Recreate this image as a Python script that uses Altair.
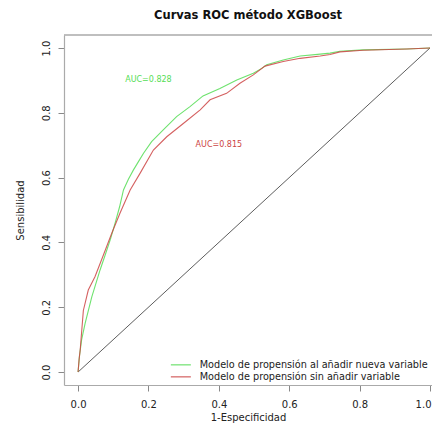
import altair as alt
import pandas as pd

# Series labels
lab_nueva = "Modelo de propensión al añadir nueva variable"
lab_sin = "Modelo de propensión sin añadir variable"

# ROC curve: model with new variable (green)
fpr_nueva = [0, 0.004, 0.010, 0.020, 0.039, 0.0625, 0.077, 0.092, 0.105, 0.118, 0.129, 0.143,
             0.157, 0.172, 0.186, 0.209, 0.242, 0.280, 0.318, 0.355, 0.403, 0.451, 0.498,
             0.522, 0.536, 0.583, 0.631, 0.688, 0.716, 0.744, 0.81, 0.934, 1.0]
tpr_nueva = [0, 0.05, 0.099, 0.15, 0.232, 0.315, 0.361, 0.41, 0.459, 0.51, 0.562, 0.595,
             0.623, 0.65, 0.675, 0.711, 0.747, 0.788, 0.819, 0.852, 0.875, 0.901, 0.922,
             0.937, 0.948, 0.963, 0.975, 0.981, 0.984, 0.99, 0.994, 0.997, 1.0]

# ROC curve: model without new variable (red)
fpr_sin = [0, 0.003, 0.006, 0.015, 0.029, 0.048, 0.072, 0.096, 0.119, 0.148, 0.176, 0.214,
           0.252, 0.299, 0.347, 0.375, 0.422, 0.46, 0.498, 0.531, 0.583, 0.631, 0.688,
           0.716, 0.744, 0.81, 0.934, 1.0]
tpr_sin = [0, 0.04, 0.068, 0.19, 0.253, 0.294, 0.361, 0.429, 0.49, 0.562, 0.613, 0.685,
           0.726, 0.767, 0.809, 0.84, 0.86, 0.891, 0.917, 0.944, 0.958, 0.968, 0.975,
           0.98, 0.988, 0.993, 0.997, 1.0]

# AUC annotations
auc_text = ["AUC=0.828", "AUC=0.815"]
auc_x = [0.2, 0.4]
auc_y = [0.9, 0.7]
auc_series = [lab_nueva, lab_sin]

# Diagonal reference
diag_x = [0, 1]
diag_y = [0, 1]

tick_vals = [0, 0.2, 0.4, 0.6, 0.8, 1.0]

col_green = "#55dd55"
col_red = "#cc4444"
frame_col = "#aaaaaa"

df = pd.concat([
    pd.DataFrame({"fpr": fpr_nueva, "tpr": tpr_nueva, "serie": lab_nueva, "ord": range(len(fpr_nueva))}),
    pd.DataFrame({"fpr": fpr_sin, "tpr": tpr_sin, "serie": lab_sin, "ord": range(len(fpr_sin))}),
])
df_auc = pd.DataFrame({"x": auc_x, "y": auc_y, "t": auc_text, "serie": auc_series})
df_diag = pd.DataFrame({"x": diag_x, "y": diag_y})

xscale = alt.Scale(domain=[-0.04, 1.0057], nice=False, zero=False)
yscale = alt.Scale(domain=[-0.04, 1.04], nice=False, zero=False)
cscale = alt.Scale(domain=[lab_nueva, lab_sin], range=[col_green, col_red])

xaxis = alt.Axis(title="1-Especificidad", values=tick_vals, format=".1f",
                 grid=False, domain=True, domainColor=frame_col, domainWidth=1.2,
                 tickSize=6, tickColor="#888888", labelPadding=8,
                 labelFlush=3, labelFlushOffset=1,
                 labelFontSize=10, labelColor="#222222", titleFontSize=10, titleFontWeight="normal",
                 titleColor="#222222", titlePadding=3)
yaxis = alt.Axis(title="Sensibilidad", values=tick_vals, format=".1f",
                 grid=False, domain=True, domainColor=frame_col, domainWidth=1.2,
                 tickSize=6, tickColor="#888888", labelPadding=7,
                 labelAngle=270, labelAlign="center", labelBaseline="bottom",
                 labelFontSize=10, labelColor="#222222", titleFontSize=10, titleFontWeight="normal",
                 titleColor="#222222", titleX=-44, titleBaseline="middle")

diag = alt.Chart(df_diag).mark_line(color="#333333", strokeWidth=0.8).encode(
    x=alt.X("x:Q", scale=xscale, axis=xaxis),
    y=alt.Y("y:Q", scale=yscale, axis=yaxis),
)

# top edge of the plot frame (the right edge falls outside the picture, as in the reference)
topframe = alt.Chart(df_diag).mark_rule(color=frame_col, strokeWidth=1.2).encode(
    x=alt.value(0), x2=alt.value("width"), y=alt.value(0),
)

lines = alt.Chart(df).mark_line(strokeWidth=1.1, opacity=0.85).encode(
    x=alt.X("fpr:Q", scale=xscale),
    y=alt.Y("tpr:Q", scale=yscale),
    color=alt.Color("serie:N", scale=cscale, sort=[lab_nueva, lab_sin],
                    legend=alt.Legend(title=None, orient="none", legendX=112, legendY=325,
                                      symbolType="M-5,0H5", symbolSize=16, symbolStrokeWidth=1.2,
                                      labelFontSize=9.7, labelColor="#222222", labelOffset=14,
                                      labelLimit=400, rowPadding=1, padding=0)),
    order="ord:Q",
)

texts = alt.Chart(df_auc).mark_text(fontSize=8).encode(
    x=alt.X("x:Q", scale=xscale),
    y=alt.Y("y:Q", scale=yscale),
    text="t:N",
    color=alt.Color("serie:N", scale=cscale, legend=None),
)

chart = alt.layer(diag, topframe, lines, texts).properties(
    width=368, height=350,
    title=alt.TitleParams("Curvas ROC método XGBoost", fontSize=11.5, fontWeight="bold",
                          anchor="middle", offset=13, color="#111111"),
    autosize=alt.AutoSizeParams(type="none"),
    padding={"left": 56, "top": 27, "right": 0, "bottom": 39},
).configure(font="DejaVu Sans", view=alt.ViewConfig(stroke=None))

chart.save("out.html", embed_options={"renderer": "svg", "actions": False})
